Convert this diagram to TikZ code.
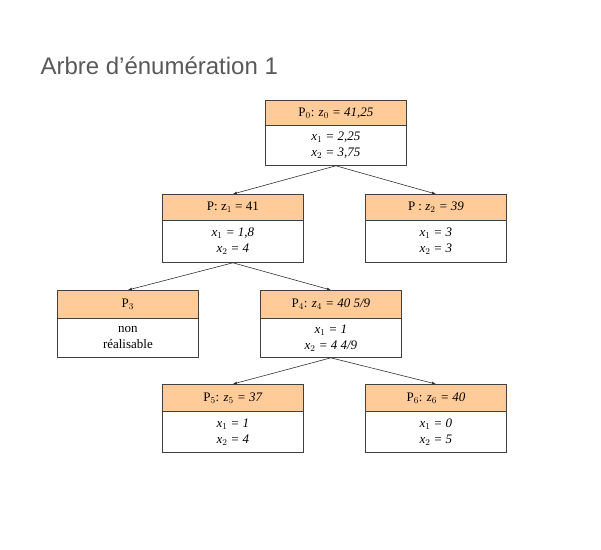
\documentclass[tikz,border=0pt]{standalone}
\usepackage{fontspec}
\setmainfont{Liberation Serif}
\newfontfamily\titlefont{Liberation Sans}
\usetikzlibrary{arrows.meta}
\definecolor{hdr}{HTML}{FFCC99}
\definecolor{ttl}{HTML}{595959}
\begin{document}
\begin{tikzpicture}[x=1pt,y=-1pt,
  hbox/.style={draw=black!75,fill=hdr,line width=0.8pt,minimum width=141pt,inner sep=0pt,anchor=north west,font=\fontsize{13}{15}\selectfont},
  bbox/.style={draw=black!75,fill=white,line width=0.8pt,minimum width=141pt,inner sep=0pt,anchor=north west,align=center,font=\fontsize{13}{16}\selectfont},
  conn/.style={-{Latex[length=4pt,width=3pt]},black!80,line width=0.6pt}]
\useasboundingbox (0,0) rectangle (601,549);
\node[anchor=west,text=ttl,font=\titlefont\fontsize{24}{28}\selectfont] (title) at (37,66) {Arbre d’énumération 1};
% P0
\node[hbox,minimum height=25pt] (h0) at (265,100) {P$_0$: \textit{z$_0$ = 41,25}};
\node[bbox,minimum height=40pt] (b0) at (265,125) {\textit{x$_1$ = 2,25}\\\textit{x$_2$ = 3,75}};
% P1
\node[hbox,minimum height=26pt] (h1) at (162,194) {P: z$_1$ = 41};
\node[bbox,minimum height=42pt] (b1) at (162,220) {\textit{x$_1$ = 1,8}\\\textit{x$_2$ = 4}};
% P2
\node[hbox,minimum height=26pt] (h2) at (365,194) {P : \textit{z$_2$ = 39}};
\node[bbox,minimum height=42pt] (b2) at (365,220) {\textit{x$_1$ = 3}\\\textit{x$_2$ = 3}};
% P3
\node[hbox,minimum height=28pt] (h3) at (57,290) {P$_3$};
\node[bbox,minimum height=39pt] (b3) at (57,318) {non\\réalisable};
% P4
\node[hbox,minimum height=28pt] (h4) at (260,290) {P$_4$: \textit{z$_4$ = 40 5/9}};
\node[bbox,minimum height=39pt] (b4) at (260,318) {\textit{x$_1$ = 1}\\\textit{x$_2$ = 4 4/9}};
% P5
\node[hbox,minimum height=27pt] (h5) at (162,384) {P$_5$: \textit{z$_5$ = 37}};
\node[bbox,minimum height=41pt] (b5) at (162,411) {\textit{x$_1$ = 1}\\\textit{x$_2$ = 4}};
% P6
\node[hbox,minimum height=27pt] (h6) at (365,384) {P$_6$: \textit{z$_6$ = 40}};
\node[bbox,minimum height=41pt] (b6) at (365,411) {\textit{x$_1$ = 0}\\\textit{x$_2$ = 5}};
\draw[conn] (b0.south) -- (h1.north);
\draw[conn] (b0.south) -- (h2.north);
\draw[conn] (b1.south) -- (h3.north);
\draw[conn] (b1.south) -- (h4.north);
\draw[conn] (b4.south) -- (h5.north);
\draw[conn] (b4.south) -- (h6.north);
\end{tikzpicture}
\end{document}
